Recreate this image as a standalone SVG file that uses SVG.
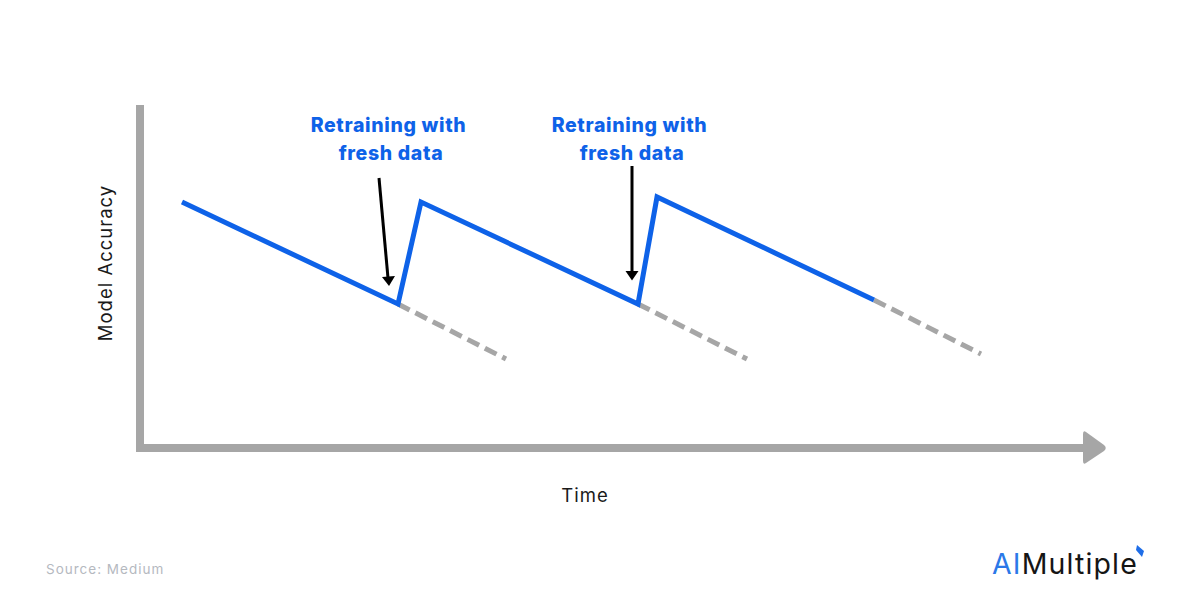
<svg xmlns="http://www.w3.org/2000/svg" width="1200" height="614" viewBox="0 0 1200 614">
<style>
.axis{fill:none;stroke:#a6a6a6;stroke-width:8}
.blue{fill:none;stroke:#0e62e8;stroke-width:5;stroke-linejoin:miter}
.dash{fill:none;stroke:#a6a6a6;stroke-width:5;stroke-dasharray:13 6.500}
.ptr{fill:none;stroke:#000;stroke-width:3}
.lab{font-family:"Inter","Liberation Sans",sans-serif;font-weight:800;font-size:19.500px;letter-spacing:.65px;fill:#0e62e8;text-anchor:middle}
.ax{font-family:"Inter","Liberation Sans",sans-serif;font-size:18.500px;letter-spacing:1px;fill:#1a1a1a;text-anchor:middle}
</style>
<rect width="1200" height="614" fill="#fff"/>
<g id="axes">
<path class="axis" d="M140 105V448H1086"/>
<path d="M1086 432L1104 445Q1107.500 448 1104 451L1086 463Q1083 465 1083 461V434Q1083 430 1086 432Z" fill="#a6a6a6"/>
</g>
<g id="connectors">
<path class="dash" d="M398 304L506 359"/>
<path class="dash" d="M638 304L747 359"/>
<path class="dash" d="M874 300L981 354"/>
<path class="blue" d="M182 202L398 304L421 202L638 304L657 197L874 300"/>
<path class="ptr" d="M379 178L388 278"/>
<path d="M382 277L395 276L389 286Z" fill="#000"/>
<path class="ptr" d="M632 166V272"/>
<path d="M625.500 271H638.500L632 280.500Z" fill="#000"/>
</g>
<g id="label-1">
<text class="lab" x="388.500" y="132">Retraining with</text>
<text class="lab" x="391" y="160">fresh data</text>
</g>
<g id="label-2">
<text class="lab" x="629.500" y="132">Retraining with</text>
<text class="lab" x="632" y="160">fresh data</text>
</g>
<g id="y-label"><text class="ax" transform="translate(112 263) rotate(-90)">Model Accuracy</text></g>
<g id="x-label"><text class="ax" x="585" y="502">Time</text></g>
<g id="source"><text x="46" y="574" font-family="Inter,'Liberation Sans',sans-serif" font-size="13.500px" letter-spacing="1" fill="#b5b9bf">Source: Medium</text></g>
<g id="logo">
<text x="992" y="574" font-family="Inter,'Liberation Sans',sans-serif" font-size="28.500px" letter-spacing="1.150"><tspan fill="#2b78e8">AI</tspan><tspan fill="#151515">Multiple</tspan></text>
<path d="M1137 545L1144 551L1142 557L1136 550Z" fill="#1f6ee8"/>
</g>
</svg>
